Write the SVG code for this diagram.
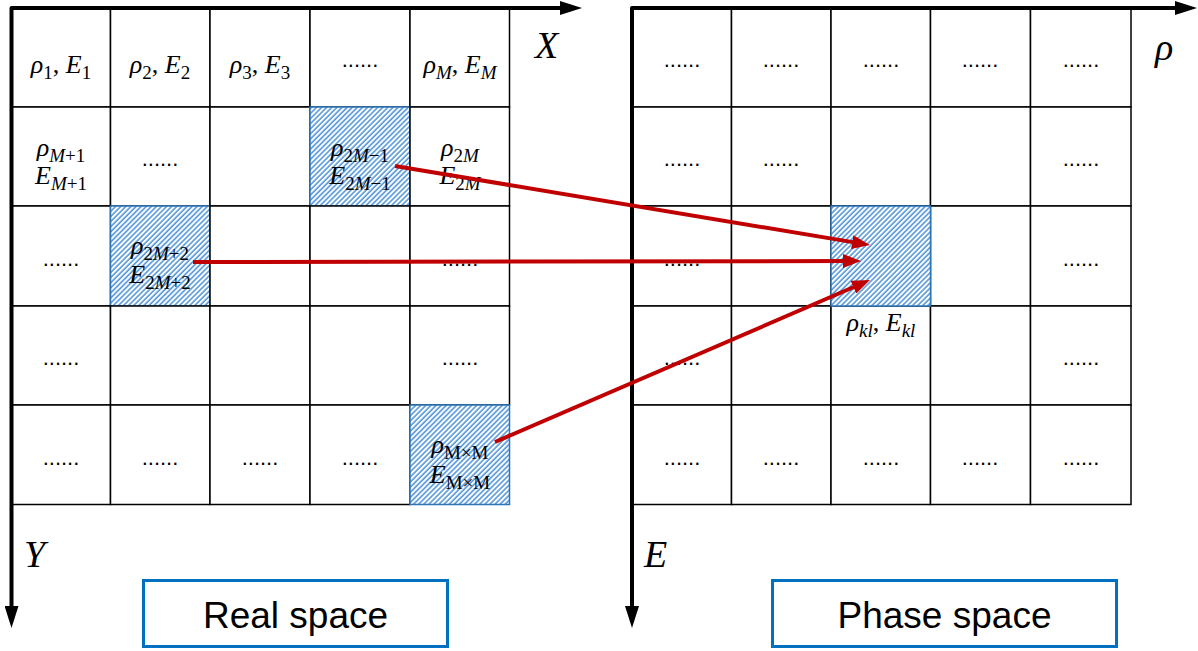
<svg xmlns="http://www.w3.org/2000/svg" width="1198" height="651" viewBox="0 0 1198 651">
<style>
.c{fill:#fff;stroke:#000;stroke-width:1.5}
.h{fill:url(#hatch);stroke:#2E75B6;stroke-width:1.5}
.ax{fill:none;stroke:#000;stroke-width:4;stroke-linejoin:round;marker-start:url(#ka);marker-end:url(#ka)}
.m{font-family:"Liberation Serif","DejaVu Serif",serif;font-size:26px;fill:#000;text-anchor:middle}
.i{font-style:italic}
.s{font-size:19px}
.d{font-family:"Liberation Sans",sans-serif;font-size:22px;fill:#000;text-anchor:middle}
.lbl{font-family:"Liberation Serif","DejaVu Serif",serif;font-style:italic;font-size:38px;fill:#000}
.box{fill:#fff;stroke:#0070C0;stroke-width:3}
.bt{font-family:"Liberation Sans",sans-serif;font-size:37px;fill:#000;text-anchor:middle}
.ar{fill:none;stroke:#C00000;stroke-width:4;marker-end:url(#ra)}
</style>
<defs>
<pattern id="hatch" width="3.6" height="3.6" patternUnits="userSpaceOnUse" patternTransform="rotate(45)">
<rect width="3.6" height="3.6" fill="#fff"/>
<line x1="1" y1="0" x2="1" y2="3.6" stroke="#4A90D9" stroke-width="1.5"/>
</pattern>
<marker id="ka" markerUnits="userSpaceOnUse" markerWidth="22" markerHeight="14" refX="4" refY="7" orient="auto-start-reverse"><path d="M0,0 L22,7 L0,14 z" fill="#000"/></marker>
<marker id="ra" markerUnits="userSpaceOnUse" markerWidth="18" markerHeight="14" refX="8" refY="7" orient="auto"><path d="M0,0 L18,7 L0,14 z" fill="#C00000"/></marker>
</defs>
<rect width="1198" height="651" fill="#fff"/>

<!-- Real space grid -->
<g id="real-grid">
<g id="r11"><rect class="c" x="11" y="8" width="99.5" height="99"/><text class="m" x="61" y="73"><tspan class="i">ρ</tspan><tspan class="s" dy="6">1</tspan><tspan dy="-6">, </tspan><tspan class="i">E</tspan><tspan class="s" dy="6">1</tspan></text></g>
<g id="r12"><rect class="c" x="110.5" y="8" width="99.5" height="99"/><text class="m" x="160" y="73"><tspan class="i">ρ</tspan><tspan class="s" dy="6">2</tspan><tspan dy="-6">, </tspan><tspan class="i">E</tspan><tspan class="s" dy="6">2</tspan></text></g>
<g id="r13"><rect class="c" x="210" y="8" width="100" height="99"/><text class="m" x="260" y="73"><tspan class="i">ρ</tspan><tspan class="s" dy="6">3</tspan><tspan dy="-6">, </tspan><tspan class="i">E</tspan><tspan class="s" dy="6">3</tspan></text></g>
<g id="r14"><rect class="c" x="310" y="8" width="100" height="99"/><text class="d" x="360" y="67">......</text></g>
<g id="r15"><rect class="c" x="410" y="8" width="99.5" height="99"/><text class="m" x="460" y="73"><tspan class="i">ρ</tspan><tspan class="s i" dy="6">M</tspan><tspan dy="-6">, </tspan><tspan class="i">E</tspan><tspan class="s i" dy="6">M</tspan></text></g>

<g id="r21"><rect class="c" x="11" y="107" width="99.5" height="99"/><text class="m" x="61" y="156"><tspan class="i">ρ</tspan><tspan class="s" dy="6"><tspan class="i">M</tspan>+1</tspan></text><text class="m" x="61" y="184"><tspan class="i">E</tspan><tspan class="s" dy="6"><tspan class="i">M</tspan>+1</tspan></text></g>
<g id="r22"><rect class="c" x="110.5" y="107" width="99.5" height="99"/><text class="d" x="160" y="166">......</text></g>
<g id="r23"><rect class="c" x="210" y="107" width="100" height="99"/></g>
<g id="r24"><rect class="h" x="310" y="107" width="100" height="99"/><text class="m" x="360" y="156"><tspan class="i">ρ</tspan><tspan class="s" dy="6">2<tspan class="i">M</tspan>−1</tspan></text><text class="m" x="360" y="184"><tspan class="i">E</tspan><tspan class="s" dy="6">2<tspan class="i">M</tspan>−1</tspan></text></g>
<g id="r25"><rect class="c" x="410" y="107" width="99.5" height="99"/><text class="m" x="460" y="156"><tspan class="i">ρ</tspan><tspan class="s" dy="6">2<tspan class="i">M</tspan></tspan></text><text class="m" x="460" y="184"><tspan class="i">E</tspan><tspan class="s" dy="6">2<tspan class="i">M</tspan></tspan></text></g>

<g id="r31"><rect class="c" x="11" y="206" width="99.5" height="100"/><text class="d" x="61" y="266">......</text></g>
<g id="r32"><rect class="h" x="110.5" y="206" width="99.5" height="100"/><text class="m" x="160" y="254"><tspan class="i">ρ</tspan><tspan class="s" dy="6">2<tspan class="i">M</tspan>+2</tspan></text><text class="m" x="160" y="283"><tspan class="i">E</tspan><tspan class="s" dy="6">2<tspan class="i">M</tspan>+2</tspan></text></g>
<g id="r33"><rect class="c" x="210" y="206" width="100" height="100"/></g>
<g id="r34"><rect class="c" x="310" y="206" width="100" height="100"/></g>
<g id="r35"><rect class="c" x="410" y="206" width="99.5" height="100"/><text class="d" x="460" y="266">......</text></g>

<g id="r41"><rect class="c" x="11" y="306" width="99.5" height="99"/><text class="d" x="61" y="365">......</text></g>
<g id="r42"><rect class="c" x="110.5" y="306" width="99.5" height="99"/></g>
<g id="r43"><rect class="c" x="210" y="306" width="100" height="99"/></g>
<g id="r44"><rect class="c" x="310" y="306" width="100" height="99"/></g>
<g id="r45"><rect class="c" x="410" y="306" width="99.5" height="99"/><text class="d" x="460" y="365">......</text></g>

<g id="r51"><rect class="c" x="11" y="405" width="99.5" height="99.5"/><text class="d" x="61" y="465">......</text></g>
<g id="r52"><rect class="c" x="110.5" y="405" width="99.5" height="99.5"/><text class="d" x="160" y="465">......</text></g>
<g id="r53"><rect class="c" x="210" y="405" width="100" height="99.5"/><text class="d" x="260" y="465">......</text></g>
<g id="r54"><rect class="c" x="310" y="405" width="100" height="99.5"/><text class="d" x="360" y="465">......</text></g>
<g id="r55"><rect class="h" x="410" y="405" width="99.5" height="99.5"/><text class="m" x="460" y="453"><tspan class="i">ρ</tspan><tspan class="s" dy="6">M×M</tspan></text><text class="m" x="460" y="483"><tspan class="i">E</tspan><tspan class="s" dy="6">M×M</tspan></text></g>
</g>

<!-- Phase space grid -->
<g id="phase-grid">
<g id="p11"><rect class="c" x="632" y="8" width="99.5" height="99"/><text class="d" x="682" y="67">......</text></g>
<g id="p12"><rect class="c" x="731.5" y="8" width="99.5" height="99"/><text class="d" x="781" y="67">......</text></g>
<g id="p13"><rect class="c" x="831" y="8" width="99.5" height="99"/><text class="d" x="881" y="67">......</text></g>
<g id="p14"><rect class="c" x="930.5" y="8" width="100" height="99"/><text class="d" x="980" y="67">......</text></g>
<g id="p15"><rect class="c" x="1030.5" y="8" width="100.5" height="99"/><text class="d" x="1081" y="67">......</text></g>

<g id="p21"><rect class="c" x="632" y="107" width="99.5" height="99"/><text class="d" x="682" y="166">......</text></g>
<g id="p22"><rect class="c" x="731.5" y="107" width="99.5" height="99"/><text class="d" x="781" y="166">......</text></g>
<g id="p23"><rect class="c" x="831" y="107" width="99.5" height="99"/></g>
<g id="p24"><rect class="c" x="930.5" y="107" width="100" height="99"/></g>
<g id="p25"><rect class="c" x="1030.5" y="107" width="100.5" height="99"/><text class="d" x="1081" y="166">......</text></g>

<g id="p31"><rect class="c" x="632" y="206" width="99.5" height="100"/><text class="d" x="682" y="266">......</text></g>
<g id="p32"><rect class="c" x="731.5" y="206" width="99.5" height="100"/></g>
<g id="p33"><rect class="c" x="831" y="206" width="99.5" height="100"/></g>
<g id="p34"><rect class="c" x="930.5" y="206" width="100" height="100"/></g>
<g id="p35"><rect class="c" x="1030.5" y="206" width="100.5" height="100"/><text class="d" x="1081" y="266">......</text></g>

<g id="p41"><rect class="c" x="632" y="306" width="99.5" height="99"/><text class="d" x="682" y="365">......</text></g>
<g id="p42"><rect class="c" x="731.5" y="306" width="99.5" height="99"/></g>
<g id="p43"><rect class="c" x="831" y="306" width="99.5" height="99"/><text class="m" x="881" y="331"><tspan class="i">ρ</tspan><tspan class="s i" dy="6">kl</tspan><tspan dy="-6">, </tspan><tspan class="i">E</tspan><tspan class="s i" dy="6">kl</tspan></text></g>
<g id="p44"><rect class="c" x="930.5" y="306" width="100" height="99"/></g>
<g id="p45"><rect class="c" x="1030.5" y="306" width="100.5" height="99"/><text class="d" x="1081" y="365">......</text></g>

<g id="p51"><rect class="c" x="632" y="405" width="99.5" height="99.5"/><text class="d" x="682" y="465">......</text></g>
<g id="p52"><rect class="c" x="731.5" y="405" width="99.5" height="99.5"/><text class="d" x="781" y="465">......</text></g>
<g id="p53"><rect class="c" x="831" y="405" width="99.5" height="99.5"/><text class="d" x="881" y="465">......</text></g>
<g id="p54"><rect class="c" x="930.5" y="405" width="100" height="99.5"/><text class="d" x="980" y="465">......</text></g>
<g id="p55"><rect class="c" x="1030.5" y="405" width="100.5" height="99.5"/><text class="d" x="1081" y="465">......</text></g>
<g id="p-target"><rect class="h" x="831" y="206" width="99.5" height="100"/></g>
</g>

<!-- Axes -->
<g id="real-axes">
<path class="ax" d="M11.5,610 L11.5,8 L564,8"/>
<text class="lbl" x="535" y="58">X</text>
<text class="lbl" x="24" y="567">Y</text>
</g>
<g id="phase-axes">
<path class="ax" d="M632,610 L632,8 L1179,8"/>
<text class="lbl" x="1155" y="60">ρ</text>
<text class="lbl" x="644" y="567">E</text>
</g>

<!-- Titles -->
<g id="real-title"><rect class="box" x="143.5" y="580.5" width="304" height="66"/><text class="bt" x="295.5" y="628">Real space</text></g>
<g id="phase-title"><rect class="box" x="772.5" y="580.5" width="344" height="66"/><text class="bt" x="944.5" y="628">Phase space</text></g>

<!-- Connectors -->
<g id="connectors">
<line class="ar" x1="395" y1="166" x2="860.1" y2="243.4"/>
<line class="ar" x1="193" y1="262" x2="851" y2="261"/>
<line class="ar" x1="495" y1="442" x2="860.8" y2="284"/>
</g>
</svg>
